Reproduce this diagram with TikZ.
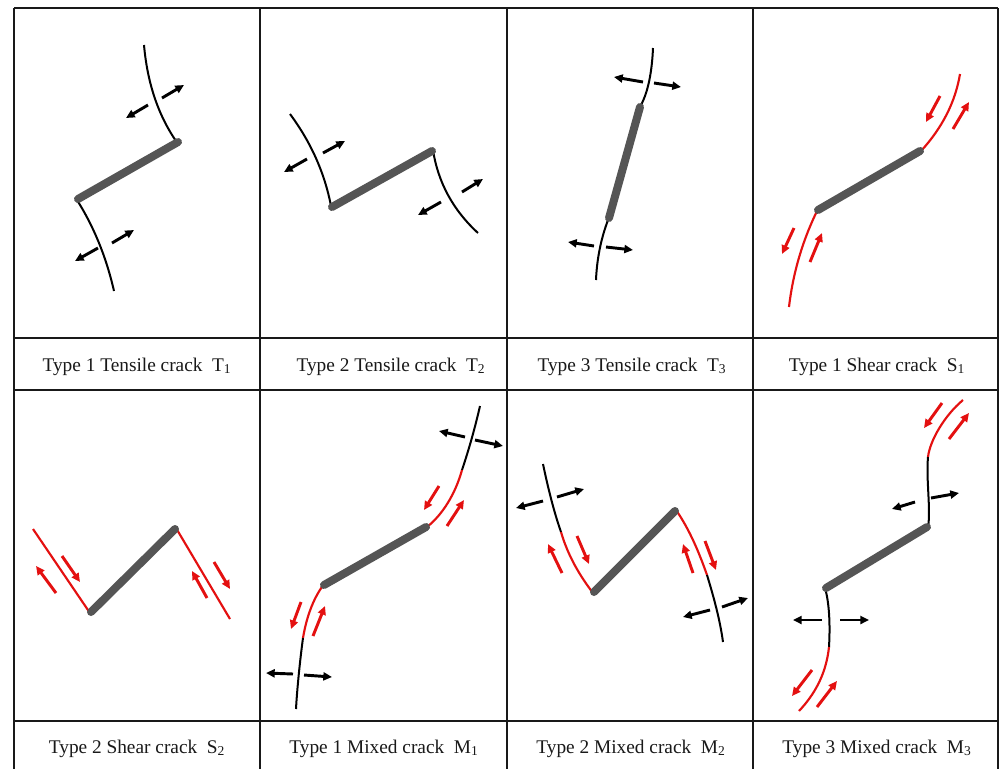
\documentclass[tikz,border=0pt]{standalone}
\usepackage{fontspec}
\setmainfont{Liberation Serif}
\usetikzlibrary{arrows.meta,calc}
\definecolor{crackred}{RGB}{228,16,16}
\definecolor{bargray}{RGB}{85,85,85}
\newcommand{\quadcrack}[4]{\draw[#1] #2 .. controls ($#2!0.6667!#3$) and ($#4!0.6667!#3$) .. #4;}
\begin{document}
\begin{tikzpicture}[x=0.75pt,y=-0.75pt,
  gridline/.style={line width=1.4pt, black!90},
  crack/.style={line width=1.5pt, black},
  shear/.style={line width=1.6pt, crackred},
  bar/.style={line width=6pt, bargray, line cap=round},
  tarrow/.style={line width=2.2pt, black, -{Triangle[length=6.5pt,width=6pt]}},
  sarrow/.style={line width=2.2pt, crackred, -{Triangle[length=6.5pt,width=6pt]}},
  lab/.style={font=\fontsize{14.5}{17}\selectfont, anchor=base, text=black!90}]
\useasboundingbox (0,0) rectangle (1000,769);
\fill[white] (0,0) rectangle (1000,769);
% grid
\draw[gridline] (14,8) -- (998,8);
\draw[gridline] (14,338) -- (998,338);
\draw[gridline] (14,390) -- (998,390);
\draw[gridline] (14,721) -- (998,721);
\foreach \x in {14,260,507,753,998} \draw[gridline] (\x,8) -- (\x,769);

% ---------- T1 ----------
\quadcrack{crack}{(144,45)}{(149,101.5)}{(176,141)}
\quadcrack{crack}{(77,200)}{(102.5,240.5)}{(114,291)}
\draw[bar] (178,142) -- (78,199);
\draw[tarrow] (162,98) -- (184,85);
\draw[tarrow] (148,105) -- (126,118);
\draw[tarrow] (112,243) -- (134,230);
\draw[tarrow] (98,248) -- (75,261);
\node[lab] (l1) at (137,371) {Type 1 Tensile crack\ \ T\textsubscript{1}};

% ---------- T2 ----------
\quadcrack{crack}{(290,114)}{(321.5,156.5)}{(331,206)}
\quadcrack{crack}{(433,150)}{(440.5,198.5)}{(478,233)}
\draw[bar] (332,207) -- (432,151);
\draw[tarrow] (323,153) -- (345,141);
\draw[tarrow] (307,159) -- (284,172);
\draw[tarrow] (462,192) -- (483,179);
\draw[tarrow] (441,202) -- (418,215);
\node[lab] (l2) at (391,371) {Type 2 Tensile crack\ \ T\textsubscript{2}};

% ---------- T3 ----------
\draw[crack] (653,48) .. controls (652,72) and (648,92) .. (641,105);
\draw[crack] (608,220) .. controls (602,236) and (597,256) .. (596,280);
\draw[bar] (640,107) -- (609,218);
\draw[tarrow] (643,82) -- (614,77);
\draw[tarrow] (654,83) -- (681,87);
\draw[tarrow] (594,246) -- (568,242);
\draw[tarrow] (606,247) -- (633,250);
\node[lab] (l3) at (632,371) {Type 3 Tensile crack\ \ T\textsubscript{3}};

% ---------- S1 ----------
\quadcrack{shear}{(960,74)}{(953,116)}{(921,151)}
\quadcrack{shear}{(818,209)}{(795,255.5)}{(789,307)}
\draw[bar] (920,151) -- (818,210);
\draw[sarrow] (940,96) -- (926,122);
\draw[sarrow] (953,129) -- (969,102);
\draw[sarrow] (794,228) -- (782,254);
\draw[sarrow] (810,262) -- (822,233);
\node[lab] (l4) at (877,371) {Type 1 Shear crack\ \ S\textsubscript{1}};

% ---------- S2 ----------
\draw[shear] (33,529) -- (90,613);
\draw[shear] (176,528) -- (230,619);
\draw[bar] (91,612) -- (175,529);
\draw[sarrow] (62,556) -- (80,582);
\draw[sarrow] (56,593) -- (36,566);
\draw[sarrow] (214,562) -- (230,589);
\draw[sarrow] (207,598) -- (192,571);
\node[lab] (l5) at (137,753) {Type 2 Shear crack\ \ S\textsubscript{2}};

% ---------- M1 ----------
\draw[crack] (480,406) .. controls (474,432) and (468,452) .. (462,470);
\draw[shear] (462,470) .. controls (455,495) and (442,515) .. (427,527);
\draw[shear] (324,584) .. controls (312,600) and (306,620) .. (303,638);
\draw[crack] (303,638) .. controls (300,660) and (297,690) .. (296,709);
\draw[bar] (426,527) -- (324,585);
\draw[tarrow] (465,437) -- (439,431);
\draw[tarrow] (475,440) -- (503,446);
\draw[sarrow] (439,486) -- (424,510);
\draw[sarrow] (447,526) -- (464,500);
\draw[sarrow] (301,602) -- (291,629);
\draw[sarrow] (313,636) -- (325,606);
\draw[tarrow] (293,674) -- (266,673);
\draw[tarrow] (304,675) -- (332,677);
\node[lab] (l6) at (384,753) {Type 1 Mixed crack\ \ M\textsubscript{1}};

% ---------- M2 ----------
\draw[crack] (543,464) .. controls (548,488) and (554,512) .. (561,532);
\draw[shear] (561,532) .. controls (568,556) and (580,576) .. (593,593);
\draw[shear] (676,510) .. controls (690,530) and (700,555) .. (707,575);
\draw[crack] (707,575) .. controls (714,598) and (720,620) .. (723,642);
\draw[bar] (594,592) -- (675,511);
\draw[tarrow] (557,497) -- (584,489);
\draw[tarrow] (543,501) -- (516,508);
\draw[sarrow] (577,536) -- (589,564);
\draw[sarrow] (562,573) -- (548,544);
\draw[sarrow] (705,541) -- (716,570);
\draw[sarrow] (693,573) -- (683,544);
\draw[tarrow] (722,607) -- (748,598);
\draw[tarrow] (710,610) -- (683,617);
\node[lab] (l7) at (631,753) {Type 2 Mixed crack\ \ M\textsubscript{2}};

% ---------- M3 ----------
\draw[shear] (963,400) .. controls (945,415) and (930,440) .. (928,457);
\draw[crack] (928,457) .. controls (926,480) and (931,510) .. (928,527);
\draw[crack] (825,588) .. controls (830,605) and (830,630) .. (829,647);
\draw[shear] (829,647) .. controls (826,675) and (814,695) .. (799,711);
\draw[bar] (927,527) -- (826,588);
\draw[sarrow] (942,403) -- (924,428);
\draw[sarrow] (949,439) -- (969,413);
\draw[tarrow] (931,498) -- (959,493);
\draw[tarrow] (915,502) -- (892,509);
\draw[tarrow] (822,620) -- (793,620);
\draw[tarrow] (840,620) -- (869,620);
\draw[sarrow] (812,670) -- (792,696);
\draw[sarrow] (817,707) -- (837,681);
\node[lab] (l8) at (877,753) {Type 3 Mixed crack\ \ M\textsubscript{3}};
\end{tikzpicture}
\end{document}
